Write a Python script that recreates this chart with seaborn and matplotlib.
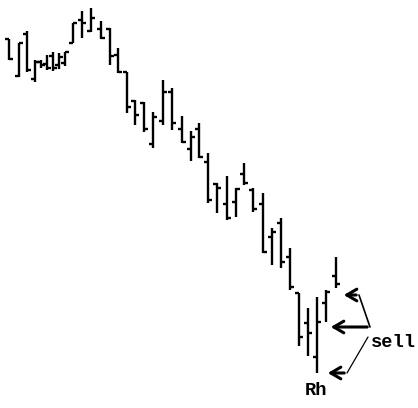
import matplotlib
matplotlib.use("Agg")
import matplotlib.pyplot as plt
import seaborn as sns

# Bar positions (trading-day axis) and OHLC values
days = [9, 19, 27, 35, 41, 47, 53, 59, 65, 73, 82, 91, 101, 110, 118, 127, 135,
        144, 153, 163, 172, 182, 191, 199, 208, 217, 227, 236, 244, 253, 263,
        272, 281, 290, 299, 308, 317, 326, 336]
highs = [369, 365, 377, 348, 348, 353, 356, 355, 356, 385, 397, 400, 387, 380,
         360, 336, 308, 306, 296, 328, 320, 292, 277, 285, 255, 225, 232, 220,
         245, 220, 215, 180, 190, 160, 115, 100, 111, 118, 151]
lows = [348, 331, 336, 326, 340, 338, 337, 339, 342, 365, 370, 376, 369, 343,
        335, 295, 283, 276, 260, 283, 278, 265, 247, 250, 205, 195, 188, 191,
        223, 196, 155, 143, 140, 118, 62, 52, 35, 86, 120]
opens = [369, 332, 374, 329, 346, 344, 352, 343, 345, 365, 388, 377, 379, 379,
         353, 336, 307, 305, 264, 287, 316, 279, 259, 279, 246, 224, 204, 206,
         234, 218, 204, 171, 185, 151, 115, 85, 51, 105, 132]
closes = [349, 365, 338, 346, 343, 340, 340, 351, 356, 385, 385, 390, 370, 352,
          336, 301, 293, 279, 291, 316, 285, 266, 271, 251, 208, 220, 190, 219,
          225, 199, 156, 176, 146, 121, 71, 75, 86, 116, 124]

sns.set_theme(style="white")
plt.rcParams["font.family"] = ["Liberation Mono", "DejaVu Sans Mono"]

fig = plt.figure(figsize=(4.18, 4.08), dpi=100)
ax = fig.add_axes([0, 0, 1, 1])

tick = 4
ax.vlines(days, lows, highs, color="black", linewidth=1.7)
ax.hlines(opens, [d - tick for d in days], days, color="black", linewidth=1.7)
ax.hlines(closes, days, [d + tick for d in days], color="black", linewidth=1.7)

head = dict(arrowstyle="->, head_length=0.6, head_width=0.35", color="black", lw=2.2)
ax.annotate("", xy=(341, 113), xytext=(359, 113), arrowprops=head)
ax.annotate("", xy=(328, 81), xytext=(370, 81), arrowprops=head)
ax.annotate("", xy=(325, 35), xytext=(347, 35), arrowprops=head)
ax.plot([359, 370], [113, 81], color="black", lw=1.2)
ax.plot([347, 368], [35, 71], color="black", lw=0.9)

ax.text(371, 61, "sell", fontsize=13.5, color="black", ha="left", va="baseline",
        fontweight="bold")
ax.text(305, 13, "Rh", fontsize=13.5, color="black", ha="left", va="baseline",
        fontweight="bold")

ax.set_xlim(0, 418)
ax.set_ylim(0, 408)
ax.axis("off")
sns.despine(left=True, bottom=True)

fig.savefig("out.png", dpi=100, facecolor="white")
